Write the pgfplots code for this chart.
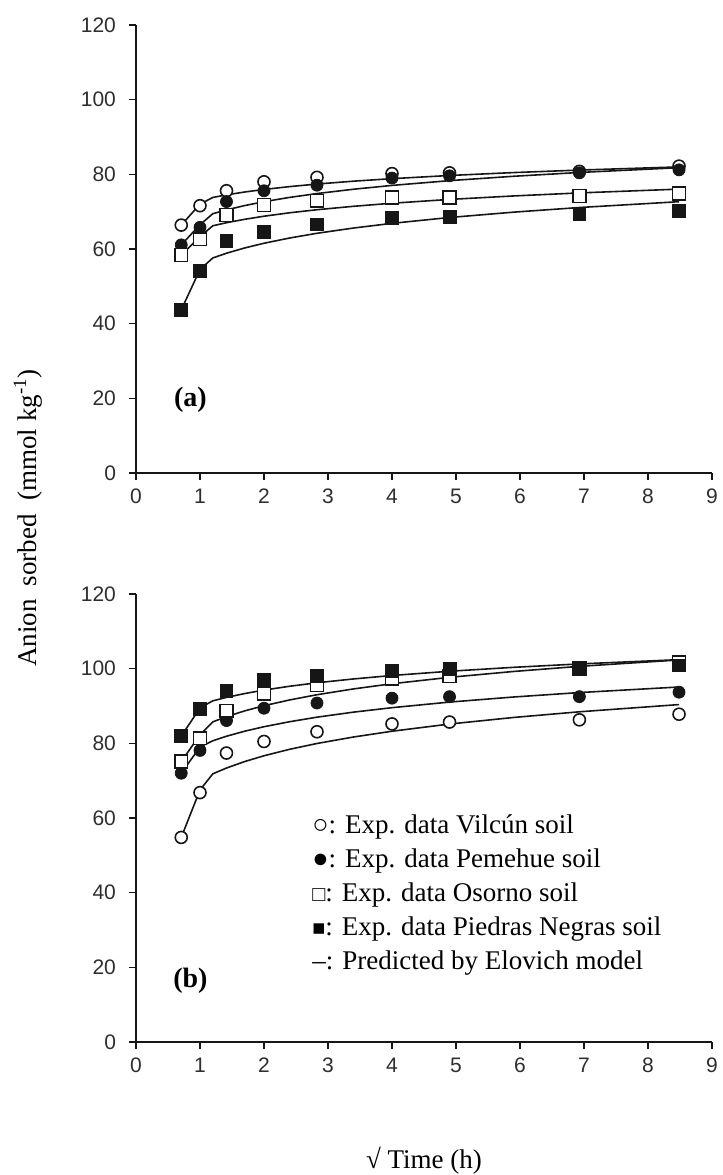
\documentclass[border=0pt]{standalone}
\usepackage{fontspec}
\setmainfont{Liberation Serif}
\newfontfamily\ticksans{Liberation Sans}
\usepackage{graphicx}
\usepackage{pgfplots}
\usepackage{pgfplotstable}
\pgfplotsset{compat=1.18}
\definecolor{ink}{HTML}{161616}
\definecolor{tickc}{HTML}{2E2E2E}

% measured points: x = sqrt(t), columns = soils
\pgfplotstableread{
x     oc    fc    os    fs
0.707 66.4  61.1  58.4  43.7
1     71.6  65.8  62.6  54.1
1.414 75.6  72.7  69.1  62.2
2     78.0  75.6  71.8  64.6
2.828 79.2  77.1  72.9  66.6
4     80.2  79.0  73.8  68.4
4.899 80.4  79.6  73.8  68.7
6.928 80.8  80.4  74.2  69.4
8.485 82.2  81.2  74.9  70.2
}\expa
\pgfplotstableread{
x     oc    fc    os    fs
0.707 66.4  61.1  58.4  43.7
1     72.0  66.5  63.3  54.5
1.2   73.81 69.45 66.22 57.60
1.414 74.50 70.48 67.04 58.87
1.7   75.27 71.64 67.96 60.29
2     75.95 72.67 68.78 61.54
2.4   76.71 73.82 69.70 62.94
2.828 77.40 74.85 70.52 64.21
3.4   78.17 76.01 71.44 65.62
4     78.84 77.03 72.26 66.87
4.899 79.69 78.31 73.28 68.44
5.9   80.47 79.48 74.21 69.87
6.928 81.14 80.50 75.02 71.11
8.485 81.99 81.78 76.04 72.67
}\fita
\pgfplotstableread{
x     oc    fc    os    fs
0.707 54.8  72.0  75.1  81.9
1     66.8  78.1  81.4  89.2
1.414 77.4  86.1  88.7  94.0
2     80.5  89.4  93.4  97.0
2.828 83.1  90.8  95.6  98.1
4     85.2  92.1  97.3  99.3
4.899 85.7  92.5  98.0  100.0
6.928 86.3  92.5  100.0 100.0
8.485 87.8  93.7  101.6 100.9
}\expb
\pgfplotstableread{
x     oc    fc    os     fs
0.707 54.8  72.0  75.1   81.9
1     67.5  79.0  82.3   89.5
1.2   71.83 80.69 85.75  91.38
1.414 73.39 81.90 87.14  92.30
1.7   75.13 83.26 88.70  93.34
2     76.67 84.45 90.08  94.26
2.4   78.40 85.79 91.62  95.29
2.828 79.96 87.01 93.02  96.22
3.4   81.70 88.36 94.58  97.25
4     83.24 89.55 95.96  98.17
4.899 85.17 91.05 97.68  99.31
5.9   86.93 92.41 99.25  100.36
6.928 88.45 93.60 100.62 101.27
8.485 90.38 95.09 102.34 102.41
}\fitb

\newcommand\smallsym[1]{\raisebox{0.3pt}{\scalebox{0.8}{#1}}}

\pgfplotsset{
  kin/.style={
    scale only axis, width=288pt, height=224pt,
    anchor=south west,
    xmin=0, xmax=9, ymin=0, ymax=120,
    xtick={0,...,9}, ytick={0,20,...,120},
    axis x line*=bottom, axis y line*=left,
    tick align=outside, major tick length=3.5pt,
    tick style={ink, line width=0.7pt},
    axis line style={ink, line width=0.8pt},
    tick label style={font=\ticksans\fontsize{10.5}{12}\selectfont, text=tickc},
    /pgf/number format/assume math mode=true,
    xticklabel style={yshift=-1pt},
    yticklabel style={xshift=-3pt},
    clip=false,
  },
  fit/.style={ink, line width=0.8pt, mark=none},
  oc/.style={only marks, mark=*, mark size=3pt, mark options={fill=white, draw=ink, line width=0.8pt}},
  fc/.style={only marks, mark=*, mark size=3pt, mark options={fill=ink, draw=ink}},
  os/.style={only marks, mark=square*, mark size=3.2pt, mark options={fill=white, draw=ink, line width=0.8pt}},
  fs/.style={only marks, mark=square*, mark size=3.2pt, mark options={fill=ink, draw=ink}},
}

\begin{document}
\begin{tikzpicture}
\useasboundingbox (-68pt,-66.5pt) rectangle (293.5pt,521pt);

% (a)
\begin{axis}[kin, at={(0,284.5pt)}]
\addplot[fit] table[x=x,y=oc] {\fita};
\addplot[fit] table[x=x,y=fc] {\fita};
\addplot[fit] table[x=x,y=os] {\fita};
\addplot[fit] table[x=x,y=fs] {\fita};
\addplot[oc] table[x=x,y=oc] {\expa};
\addplot[fc] table[x=x,y=fc] {\expa};
\addplot[os] table[x=x,y=os] {\expa};
\addplot[fs] table[x=x,y=fs] {\expa};
\node[font=\fontsize{14}{16}\selectfont\bfseries] at (0.85,19.5) {(a)};
\end{axis}

% (b)
\begin{axis}[kin, at={(0,0)},
  xlabel={√ Time (h)},
  xlabel style={font=\fontsize{13.5}{16}\selectfont, yshift=-30pt}]
\addplot[fit] table[x=x,y=oc] {\fitb};
\addplot[fit] table[x=x,y=fc] {\fitb};
\addplot[fit] table[x=x,y=os] {\fitb};
\addplot[fit] table[x=x,y=fs] {\fitb};
\addplot[oc] table[x=x,y=oc] {\expb};
\addplot[fc] table[x=x,y=fc] {\expb};
\addplot[os] table[x=x,y=os] {\expb};
\addplot[fs] table[x=x,y=fs] {\expb};
\node[font=\fontsize{14}{16}\selectfont\bfseries] at (0.85,16.5) {(b)};
\begin{scope}[every node/.style={anchor=west, inner sep=0pt, font=\fontsize{13.5}{16}\selectfont}]
\node at (2.75,57.5) {○: Exp. data Vilcún soil};
\node at (2.75,48.4) {●: Exp. data Pemehue soil};
\node at (2.75,39.3) {\smallsym{□}: Exp. data Osorno soil};
\node at (2.75,30.2) {\smallsym{■}: Exp. data Piedras Negras soil};
\node at (2.75,21.1) {–: Predicted by Elovich model};
\end{scope}
\end{axis}

\node[rotate=90, font=\fontsize{13.5}{16}\selectfont] at (-54pt,262pt)
  {Anion\ \ sorbed\ \ (mmol kg\textsuperscript{-1})};
\end{tikzpicture}
\end{document}
